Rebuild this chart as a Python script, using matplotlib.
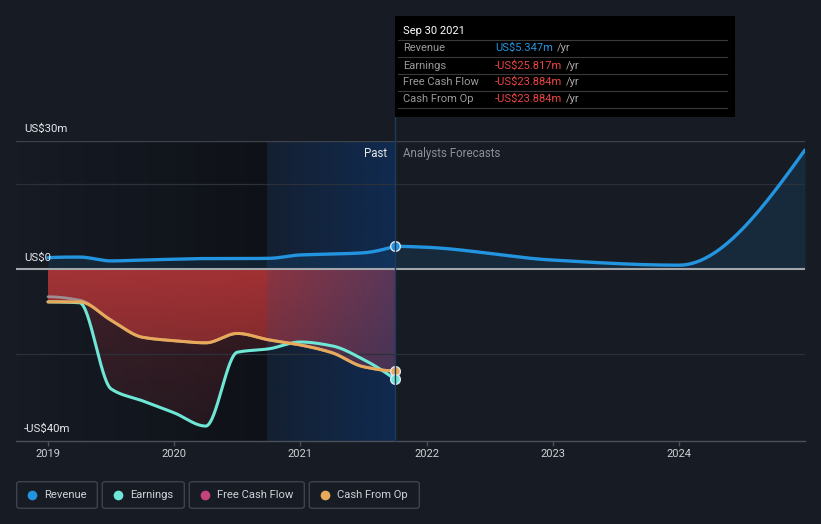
import numpy as np
import matplotlib
matplotlib.use("Agg")
import matplotlib.pyplot as plt
from matplotlib.patches import PathPatch, Rectangle, FancyBboxPatch
from matplotlib.colors import to_rgb
from matplotlib.lines import Line2D

plt.rcParams['font.family'] = ['Roboto', 'DejaVu Sans']

# ---------------- data (US$ millions) ----------------
past_x = [2019.0, 2019.25, 2019.5, 2019.75, 2020.0, 2020.25, 2020.5, 2020.75,
          2021.0, 2021.25, 2021.5, 2021.75]
revenue_past = [2.65, 2.8, 1.9, 2.1, 2.3, 2.45, 2.45, 2.5, 3.3, 3.5, 3.8, 5.347]
earnings_past = [-7.7, -7.9, -28.1, -30.9, -33.7, -36.8, -19.5, -18.7, -17.1, -18.0, -21.2, -25.817]
fcf_past = [-6.5, -7.3, -12.0, -16.0, -16.8, -17.3, -15.1, -16.6, -17.8, -19.6, -22.9, -23.884]
cfo_past = [-7.7, -7.7, -12.0, -16.0, -16.8, -17.3, -15.1, -16.6, -17.8, -19.6, -22.9, -23.884]

forecast_x = [2021.75, 2022.0, 2023.0, 2024.0, 2025.0]
revenue_forecast = [5.347, 5.1, 2.1, 0.9, 27.9]

year_ticks = [2019, 2020, 2021, 2022, 2023, 2024]
year_labels = ["2019", "2020", "2021", "2022", "2023", "2024"]

y_labels = ["US$30m", "US$0", "-US$40m"]
legend_names = ["Revenue", "Earnings", "Free Cash Flow", "Cash From Op"]

tooltip_title = "Sep 30 2021"
tooltip_rows = [("Revenue", "US$5.347m"), ("Earnings", "-US$25.817m"),
                ("Free Cash Flow", "-US$23.884m"), ("Cash From Op", "-US$23.884m")]

# ---------------- style ----------------
BG = "#161b24"
C_REV = "#2394df"
C_EARN = "#6ee7d6"
C_FCF = "#c4437d"
C_CFO = "#e8a95a"
NOW = 2021.75
SPLIT = 2020.735

W, H = 821, 524


def pchip(x, y, xs):
    x = np.asarray(x, float); y = np.asarray(y, float)
    h = np.diff(x); dl = np.diff(y) / h
    n = len(x); d = np.zeros(n)
    for k in range(1, n - 1):
        if dl[k - 1] * dl[k] > 0:
            w1 = 2 * h[k] + h[k - 1]; w2 = h[k] + 2 * h[k - 1]
            d[k] = (w1 + w2) / (w1 / dl[k - 1] + w2 / dl[k])

    def end(h0, h1, d0, d1):
        v = ((2 * h0 + h1) * d0 - h0 * d1) / (h0 + h1)
        if np.sign(v) != np.sign(d0):
            v = 0.0
        elif np.sign(d0) != np.sign(d1) and abs(v) > 3 * abs(d0):
            v = 3 * d0
        return v
    if n > 2:
        d[0] = end(h[0], h[1], dl[0], dl[1])
        d[-1] = end(h[-1], h[-2], dl[-1], dl[-2])
    else:
        d[:] = dl[0]
    xs = np.asarray(xs, float)
    idx = np.clip(np.searchsorted(x, xs) - 1, 0, n - 2)
    t = (xs - x[idx]) / h[idx]
    h00 = 2 * t**3 - 3 * t**2 + 1; h10 = t**3 - 2 * t**2 + t
    h01 = -2 * t**3 + 3 * t**2; h11 = t**3 - t**2
    return h00 * y[idx] + h10 * h[idx] * d[idx] + h01 * y[idx + 1] + h11 * h[idx] * d[idx + 1]


fig = plt.figure(figsize=(W / 100, H / 100), dpi=100, facecolor=BG)
ax = fig.add_axes([16 / W, 1 - 441 / H, (805 - 16) / W, (441 - 141) / H])
ax.set_facecolor(BG)

XMIN, XMAX = 2018.746, 2025.0
YMIN, YMAX = -40.3, 30.0

xs_p = np.linspace(past_x[0], past_x[-1], 600)
xs_f = np.linspace(forecast_x[0], forecast_x[-1], 600)
rev_p = pchip(past_x, revenue_past, xs_p)
earn_p = pchip(past_x, earnings_past, xs_p)
fcf_p = pchip(past_x, fcf_past, xs_p)
cfo_p = pchip(past_x, cfo_past, xs_p)
rev_f = pchip(forecast_x, revenue_forecast, xs_f)


def hgrad(x0, x1, color, a0, a1, z):
    n = 256
    img = np.zeros((1, n, 4))
    img[..., :3] = to_rgb(color)
    img[0, :, 3] = np.linspace(a0, a1, n)
    ax.imshow(img, extent=[x0, x1, YMIN, YMAX], aspect='auto', origin='upper',
              zorder=z, interpolation='bilinear')


def vgrad_fill(x, y, color, a_top, a_bot, z):
    poly = ax.fill_between(x, 0, y, facecolor='none', edgecolor='none')
    path = poly.get_paths()[0]
    patch = PathPatch(path, transform=ax.transData, facecolor='none', edgecolor='none')
    ax.add_patch(patch)
    n = 256
    img = np.zeros((n, 1, 4))
    img[..., :3] = to_rgb(color)
    img[:, 0, 3] = np.linspace(a_top, a_bot, n)
    im = ax.imshow(img, extent=[min(x), max(x), -40, 0], aspect='auto', origin='upper',
                   zorder=z, interpolation='bilinear')
    im.set_clip_path(patch)


# background shading regions
hgrad(XMIN, SPLIT, "#000000", 0.0, 0.35, 0.5)

# red fills (earnings and cash flow)
vgrad_fill(xs_p, earn_p, "#d23c46", 0.24, 0.10, 1)
vgrad_fill(xs_p, cfo_p, "#d23c3c", 0.68, 0.32, 1.5)

# revenue fill
ax.fill_between(xs_p, 0, rev_p, color=C_REV, alpha=0.13, lw=0, zorder=1.6)
ax.fill_between(xs_f, 0, rev_f, color=C_REV, alpha=0.13, lw=0, zorder=1.6)

# blue "recent past" overlay
hgrad(SPLIT, NOW, "#0a3c80", 0.15, 0.48, 2)

# grid lines
ax.axhline(30, color="#3d424b", lw=1.0, zorder=2.5)
for g in (20, -20):
    ax.axhline(g, color="#2b313a", lw=0.9, zorder=2.5)
ax.axhline(0, color="#a3a6ab", lw=1.5, zorder=3)

# lines
ax.plot(xs_p, fcf_p, color="#a0a0a4", lw=2.0, alpha=0.85, zorder=4, solid_capstyle='round')
ax.plot(xs_p, earn_p, color=C_EARN, lw=2.2, zorder=4.2, solid_capstyle='round')
ax.plot(xs_p, cfo_p, color=C_CFO, lw=2.2, zorder=4.3, solid_capstyle='round')
ax.plot(xs_p, rev_p, color=C_REV, lw=2.4, zorder=4.4, solid_capstyle='round')
ax.plot(xs_f, rev_f, color=C_REV, lw=2.4, zorder=4.4, solid_capstyle='round')

# end markers
ax.plot([past_x[-1]], [revenue_past[-1]], 'o', ms=7, mfc=C_REV, mec="#dfe6ee", mew=1.0, zorder=6)
ax.plot([past_x[-1]], [cfo_past[-1]], 'o', ms=7, mfc=C_CFO, mec="#dfe6ee", mew=1.0, zorder=6)
ax.plot([past_x[-1]], [earnings_past[-1]], 'o', ms=7, mfc=C_EARN, mec="#dfe6ee", mew=1.0, zorder=6.1)

ax.set_xlim(XMIN, XMAX)
ax.set_ylim(YMIN, YMAX)
for s in ("top", "left", "right"):
    ax.spines[s].set_visible(False)
ax.spines["bottom"].set_color("#4a4f58")
ax.spines["bottom"].set_linewidth(1.0)
ax.set_yticks([])
ax.set_xticks(year_ticks)
ax.set_xticklabels(year_labels)
ax.tick_params(axis='x', length=3.5, width=1, color="#4a4f58", labelcolor="#cfd1d4",
               labelsize=8, pad=2)


def fx(px):
    return px / W


def fy(py):
    return 1 - py / H


# now line (figure coords from tooltip bottom to axis bottom)
fig.add_artist(Line2D([fx(395), fx(395)], [fy(116), fy(441)], color="#1f3a5c", lw=1.0, zorder=5))

# y labels
for lab, py in zip(y_labels, [129.3, 257.7, 429.3]):
    fig.text(fx(24), fy(py), lab, color="#e6e8ea", fontsize=8.2, ha='left', va='center', zorder=7)

# Past / Analysts Forecasts
fig.text(fx(387), fy(153.3), "Past", color="#e6e8ea", fontsize=8.3, ha='right', va='center')
fig.text(fx(403), fy(153.3), "Analysts Forecasts", color="#8c9098", fontsize=8.3, ha='left', va='center')

# tooltip
fig.add_artist(Rectangle((fx(395), fy(116.5)), fx(735) - fx(395), fy(15.5) - fy(116.5),
                         transform=fig.transFigure, facecolor="#000000", edgecolor='none', zorder=8))
fig.text(fx(403), fy(31), tooltip_title, color="#ffffff", fontsize=8.0, ha='left', va='center', zorder=9)
for sy in [40, 57.3, 74.3, 91.3, 108.3]:
    fig.add_artist(Line2D([fx(398), fx(727)], [fy(sy), fy(sy)], color="#3a3a3a", lw=0.8, zorder=9))
row_y = [48.3, 65.7, 82.3, 99.0]
val_texts = []
for (lab, val), ry in zip(tooltip_rows, row_y):
    fig.text(fx(403), fy(ry), lab, color="#9a9a9a", fontsize=8.0, ha='left', va='center', zorder=9)
    col = C_REV if not val.startswith('-') else "#ea4545"
    t = fig.text(fx(495), fy(ry), val, color=col, fontsize=8.0, ha='left', va='center', zorder=9)
    val_texts.append((t, ry))

# legend
boxes = [(16.7, 97.3), (102.3, 184.3), (189.3, 304.3), (309.3, 419.3)]
dots = [32, 117.7, 205, 325]
txt_x = [44.3, 130, 217.3, 337.3]
cols = [C_REV, C_EARN, C_FCF, C_CFO]
for (x0, x1), dx, tx, c, name in zip(boxes, dots, txt_x, cols, legend_names):
    fig.add_artist(FancyBboxPatch((fx(x0), fy(508.3)), fx(x1) - fx(x0), fy(481.7) - fy(508.3),
                                  boxstyle="round,pad=0,rounding_size=0.004",
                                  transform=fig.transFigure, facecolor='none',
                                  edgecolor="#3d424b", lw=1.0))
    fig.add_artist(Line2D([fx(dx)], [fy(494.5)], marker='o', ms=7, color=c, mec='none', ls='none'))
    fig.text(fx(tx), fy(494.5), name, color="#d0d2d5", fontsize=8.1, ha='left', va='center')

fig.canvas.draw()
r = fig.canvas.get_renderer()
for t, ry in val_texts:
    bb = t.get_window_extent(r)
    fig.text((bb.x1 + 4) / W, fy(ry), "/yr", color="#a8a8a8", fontsize=8.0,
             ha='left', va='center', zorder=9)

fig.savefig("out.png", dpi=100, facecolor=BG)
